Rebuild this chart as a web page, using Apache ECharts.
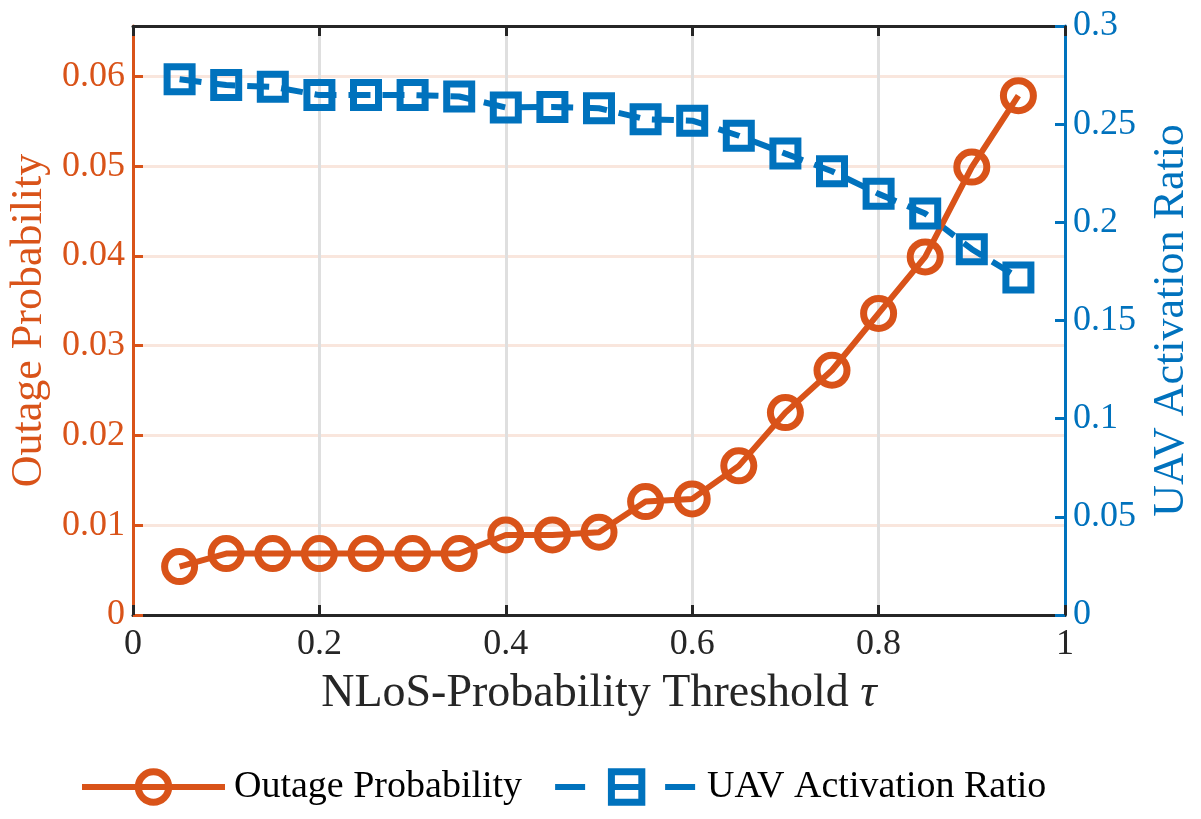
<!DOCTYPE html>
<html>
<head>
<meta charset="utf-8">
<script src="https://cdn.jsdelivr.net/npm/echarts@6/dist/echarts.min.js"></script>
<style>
	html, body { margin: 0; padding: 0; background: #fff; }
	#chart { width: 1201px; height: 819px; }
</style>
</head>
<body>
<div id="chart"></div>
<script>
var thresholds = [0.05, 0.1, 0.15, 0.2, 0.25, 0.3, 0.35, 0.4, 0.45, 0.5,
	0.55, 0.6, 0.65, 0.7, 0.75, 0.8, 0.85, 0.9, 0.95];
var outageProb = [0.00539, 0.00684, 0.00684, 0.00684, 0.00684, 0.00684, 0.00684, 0.00892, 0.00892, 0.00922,
	0.01263, 0.01293, 0.01661, 0.02254, 0.02726, 0.03359, 0.03988, 0.04989, 0.05784];
var uavRatio = [0.2729, 0.2699, 0.2690, 0.2648, 0.2648, 0.2648, 0.2641, 0.2585, 0.2588, 0.2581,
	0.2525, 0.2518, 0.2441, 0.2350, 0.2260, 0.2145, 0.2045, 0.1863, 0.1719];

const orange = '#D95319';
const blue = '#0072BD';
const dark = '#262626';
const font = "'Liberation Serif', 'Times New Roman', serif";

function fmt(v) {
	return String(+v.toFixed(4));
}

function pairs(xs, ys) {
	var out = [];
	for (var i = 0; i < xs.length; i++) {
		out.push([xs[i], ys[i]]);
	}
	return out;
}

var myChart = echarts.init(document.getElementById('chart'), null, { renderer: 'canvas' });
var option = {
	animation: false,
	textStyle: { fontFamily: font },
	grid: { left: 133, right: 136, top: 26, bottom: 204, containLabel: false, outerBoundsMode: 'none' },
	legend: {
		bottom: 8,
		left: 74,
		data: [
			{ name: 'Outage Probability' },
			{ name: 'UAV Activation Ratio', lineStyle: { type: [30, 25] } }
		],
		itemWidth: 143,
		itemHeight: 38,
		itemGap: 30,
		lineStyle: { width: 6 },
		itemStyle: { borderWidth: 7 },
		textStyle: { fontFamily: font, fontSize: 38, color: '#000', padding: [0, 0, 0, 4] },
	},
	xAxis: [
		{
			type: 'value',
			min: 0,
			max: 1,
			interval: 0.2,
			name: '{a|NLoS-Probability Threshold }{b|\u03c4}',
			nameLocation: 'middle',
			nameGap: 56,
			nameTextStyle: {
				fontFamily: font, fontSize: 46, color: dark,
				rich: {
					a: { fontFamily: font, fontSize: 46, color: dark },
					b: { fontFamily: font, fontSize: 46, color: dark, fontStyle: 'italic' },
				}
			},
			axisLine: { onZero: false, lineStyle: { color: dark, width: 3 } },
			axisTick: { inside: true, length: 10, lineStyle: { color: dark, width: 3 } },
			axisLabel: { fontFamily: font, fontSize: 36, color: dark, margin: 12, formatter: fmt },
			splitLine: { show: true, lineStyle: { color: '#DFDFDF', width: 3 } },
		},
		{
			type: 'value',
			position: 'top',
			min: 0,
			max: 1,
			interval: 0.2,
			axisLine: { onZero: false, lineStyle: { color: dark, width: 3 } },
			axisTick: { inside: true, length: 10, lineStyle: { color: dark, width: 3 } },
			axisLabel: { show: false },
			splitLine: { show: false },
		}
	],
	yAxis: [
		{
			type: 'value',
			position: 'left',
			min: 0,
			max: 0.0656,
			interval: 0.01,
			name: 'Outage Probability',
			nameLocation: 'middle',
			nameRotate: 90,
			nameGap: 78,
			nameTextStyle: { fontFamily: font, fontSize: 44, color: orange },
			axisLine: { show: true, onZero: false, lineStyle: { color: orange, width: 3 } },
			axisTick: { inside: true, length: 10, lineStyle: { color: orange, width: 3 } },
			axisLabel: { fontFamily: font, fontSize: 36, color: orange, margin: 8, showMaxLabel: false, formatter: fmt },
			splitLine: { show: true, lineStyle: { color: '#F9E6DD', width: 3 } },
		},
		{
			type: 'value',
			position: 'right',
			min: 0,
			max: 0.3,
			interval: 0.05,
			name: 'UAV Activation Ratio',
			nameLocation: 'middle',
			nameRotate: 90,
			nameGap: 84,
			nameTextStyle: { fontFamily: font, fontSize: 44, color: blue },
			axisLine: { show: true, onZero: false, lineStyle: { color: blue, width: 3 } },
			axisTick: { inside: true, length: 10, lineStyle: { color: blue, width: 3 } },
			axisLabel: { fontFamily: font, fontSize: 36, color: blue, margin: 8, formatter: fmt },
			splitLine: { show: false },
		}
	],
	series: [
		{
			name: 'UAV Activation Ratio',
			type: 'line',
			yAxisIndex: 1,
			data: pairs(thresholds, uavRatio),
			color: blue,
			symbol: 'rect',
			symbolSize: 25,
			lineStyle: { color: blue, width: 6, type: [22, 12] },
			itemStyle: { color: 'rgba(255,255,255,0)', borderColor: blue, borderWidth: 7 },
			emphasis: { disabled: true },
		},
		{
			name: 'Outage Probability',
			type: 'line',
			yAxisIndex: 0,
			data: pairs(thresholds, outageProb),
			color: orange,
			symbol: 'circle',
			symbolSize: 30,
			lineStyle: { color: orange, width: 6 },
			itemStyle: { color: 'rgba(255,255,255,0)', borderColor: orange, borderWidth: 7 },
			emphasis: { disabled: true },
		}
	]
};
option && myChart.setOption(option);
</script>
</body>
</html>
